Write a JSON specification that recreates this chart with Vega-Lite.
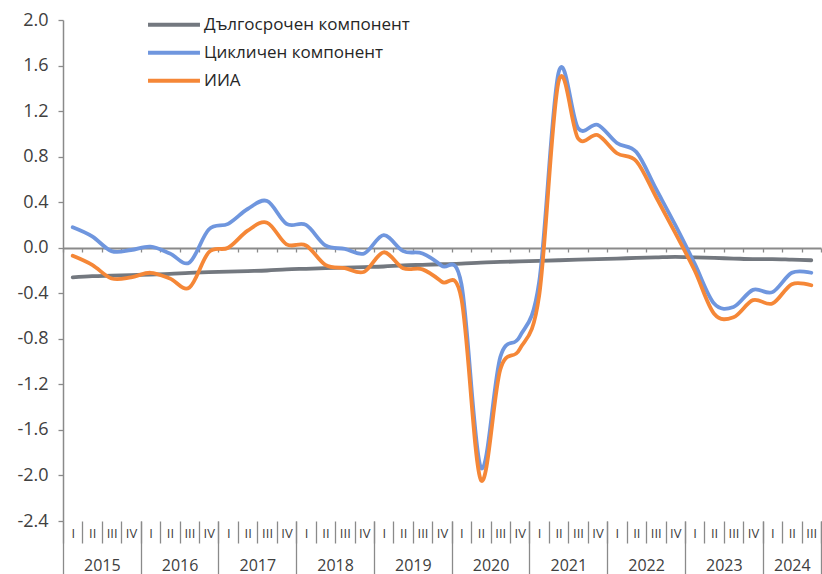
{
  "$schema": "https://vega.github.io/schema/vega-lite/v6.json",
  "width": 758,
  "height": 501,
  "autosize": {"type": "none"},
  "padding": {"left": 63, "top": 20, "right": 1, "bottom": 53},
  "background": "white",
  "config": {
    "view": {"stroke": null},
    "font": "Open Sans",
    "axisY": {
      "grid": false,
      "labelFont": "Open Sans",
      "labelFontSize": 18,
      "labelColor": "#404040",
      "labelPadding": 10,
      "tickSize": 5,
      "tickColor": "#8A8A8A",
      "tickWidth": 1.3,
      "domainColor": "#8A8A8A",
      "domainWidth": 1.5
    },
    "axisX": {
      "grid": false,
      "labelFlush": false,
      "labelOverlap": false,
      "labelBound": false,
      "domain": false,
      "tickColor": "#8A8A8A",
      "tickWidth": 1.3,
      "labelColor": "#404040",
      "labelFont": "Open Sans"
    }
  },
  "data": {
    "values": [
      {"i": 0, "year": 2015, "q": "I", "Дългосрочен компонент": -0.26, "Цикличен компонент": 0.18, "ИИА": -0.07},
      {"i": 1, "year": 2015, "q": "II", "Дългосрочен компонент": -0.25, "Цикличен компонент": 0.10, "ИИА": -0.15},
      {"i": 2, "year": 2015, "q": "III", "Дългосрочен компонент": -0.245, "Цикличен компонент": -0.03, "ИИА": -0.27},
      {"i": 3, "year": 2015, "q": "IV", "Дългосрочен компонент": -0.24, "Цикличен компонент": -0.02, "ИИА": -0.26},
      {"i": 4, "year": 2016, "q": "I", "Дългосрочен компонент": -0.235, "Цикличен компонент": 0.01, "ИИА": -0.22},
      {"i": 5, "year": 2016, "q": "II", "Дългосрочен компонент": -0.23, "Цикличен компонент": -0.05, "ИИА": -0.27},
      {"i": 6, "year": 2016, "q": "III", "Дългосрочен компонент": -0.22, "Цикличен компонент": -0.13, "ИИА": -0.35},
      {"i": 7, "year": 2016, "q": "IV", "Дългосрочен компонент": -0.215, "Цикличен компонент": 0.16, "ИИА": -0.04},
      {"i": 8, "year": 2017, "q": "I", "Дългосрочен компонент": -0.21, "Цикличен компонент": 0.21, "ИИА": 0.00},
      {"i": 9, "year": 2017, "q": "II", "Дългосрочен компонент": -0.205, "Цикличен компонент": 0.34, "ИИА": 0.15},
      {"i": 10, "year": 2017, "q": "III", "Дългосрочен компонент": -0.20, "Цикличен компонент": 0.41, "ИИА": 0.22},
      {"i": 11, "year": 2017, "q": "IV", "Дългосрочен компонент": -0.19, "Цикличен компонент": 0.21, "ИИА": 0.03},
      {"i": 12, "year": 2018, "q": "I", "Дългосрочен компонент": -0.185, "Цикличен компонент": 0.20, "ИИА": 0.02},
      {"i": 13, "year": 2018, "q": "II", "Дългосрочен компонент": -0.18, "Цикличен компонент": 0.02, "ИИА": -0.15},
      {"i": 14, "year": 2018, "q": "III", "Дългосрочен компонент": -0.175, "Цикличен компонент": -0.01, "ИИА": -0.18},
      {"i": 15, "year": 2018, "q": "IV", "Дългосрочен компонент": -0.17, "Цикличен компонент": -0.05, "ИИА": -0.21},
      {"i": 16, "year": 2019, "q": "I", "Дългосрочен компонент": -0.165, "Цикличен компонент": 0.11, "ИИА": -0.04},
      {"i": 17, "year": 2019, "q": "II", "Дългосрочен компонент": -0.155, "Цикличен компонент": -0.03, "ИИА": -0.18},
      {"i": 18, "year": 2019, "q": "III", "Дългосрочен компонент": -0.15, "Цикличен компонент": -0.05, "ИИА": -0.19},
      {"i": 19, "year": 2019, "q": "IV", "Дългосрочен компонент": -0.145, "Цикличен компонент": -0.16, "ИИА": -0.30},
      {"i": 20, "year": 2020, "q": "I", "Дългосрочен компонент": -0.14, "Цикличен компонент": -0.32, "ИИА": -0.45},
      {"i": 21, "year": 2020, "q": "II", "Дългосрочен компонент": -0.13, "Цикличен компонент": -1.93, "ИИА": -2.04},
      {"i": 22, "year": 2020, "q": "III", "Дългосрочен компонент": -0.125, "Цикличен компонент": -0.96, "ИИА": -1.07},
      {"i": 23, "year": 2020, "q": "IV", "Дългосрочен компонент": -0.12, "Цикличен компонент": -0.78, "ИИА": -0.89},
      {"i": 24, "year": 2021, "q": "I", "Дългосрочен компонент": -0.115, "Цикличен компонент": -0.30, "ИИА": -0.42},
      {"i": 25, "year": 2021, "q": "II", "Дългосрочен компонент": -0.11, "Цикличен компонент": 1.54, "ИИА": 1.46},
      {"i": 26, "year": 2021, "q": "III", "Дългосрочен компонент": -0.105, "Цикличен компонент": 1.05, "ИИА": 0.96},
      {"i": 27, "year": 2021, "q": "IV", "Дългосрочен компонент": -0.10, "Цикличен компонент": 1.08, "ИИА": 0.99},
      {"i": 28, "year": 2022, "q": "I", "Дългосрочен компонент": -0.095, "Цикличен компонент": 0.92, "ИИА": 0.83},
      {"i": 29, "year": 2022, "q": "II", "Дългосрочен компонент": -0.09, "Цикличен компонент": 0.84, "ИИА": 0.76},
      {"i": 30, "year": 2022, "q": "III", "Дългосрочен компонент": -0.085, "Цикличен компонент": 0.52, "ИИА": 0.45},
      {"i": 31, "year": 2022, "q": "IV", "Дългосрочен компонент": -0.08, "Цикличен компонент": 0.20, "ИИА": 0.13},
      {"i": 32, "year": 2023, "q": "I", "Дългосрочен компонент": -0.085, "Цикличен компонент": -0.14, "ИИА": -0.20},
      {"i": 33, "year": 2023, "q": "II", "Дългосрочен компонент": -0.09, "Цикличен компонент": -0.49, "ИИА": -0.58},
      {"i": 34, "year": 2023, "q": "III", "Дългосрочен компонент": -0.095, "Цикличен компонент": -0.52, "ИИА": -0.61},
      {"i": 35, "year": 2023, "q": "IV", "Дългосрочен компонент": -0.10, "Цикличен компонент": -0.37, "ИИА": -0.46},
      {"i": 36, "year": 2024, "q": "I", "Дългосрочен компонент": -0.10, "Цикличен компонент": -0.39, "ИИА": -0.49},
      {"i": 37, "year": 2024, "q": "II", "Дългосрочен компонент": -0.105, "Цикличен компонент": -0.22, "ИИА": -0.32},
      {"i": 38, "year": 2024, "q": "III", "Дългосрочен компонент": -0.11, "Цикличен компонент": -0.22, "ИИА": -0.33}
    ]
  },
  "transform": [
    {"fold": ["Дългосрочен компонент", "Цикличен компонент", "ИИА"], "as": ["series", "value"]}
  ],
  "resolve": {"scale": {"x": "shared", "y": "shared"}, "axis": {"x": "independent", "y": "shared"}},
  "layer": [
    {
      "mark": {"type": "line", "interpolate": "cardinal", "strokeWidth": 3.8, "strokeCap": "round"},
      "encoding": {
        "x": {
          "field": "i", "type": "quantitative", "title": null,
          "scale": {"domain": [-0.5, 38.5], "nice": false, "zero": false},
          "axis": {
            "orient": "bottom",
            "values": [0,1,2,3,4,5,6,7,8,9,10,11,12,13,14,15,16,17,18,19,20,21,22,23,24,25,26,27,28,29,30,31,32,33,34,35,36,37,38],
            "labelExpr": "['I','II','III','IV'][datum.value % 4]",
            "ticks": false,
            "tickSize": 0,
            "labelPadding": 12,
            "labelBaseline": "middle",
            "labelFontSize": 13
          }
        },
        "y": {
          "field": "value", "type": "quantitative", "title": null,
          "scale": {"domain": [-2.4, 2.0], "nice": false, "zero": false},
          "axis": {
            "values": [-2.4, -2.0, -1.6, -1.2, -0.8, -0.4, 0.0, 0.4, 0.8, 1.2, 1.6, 2.0],
            "labelExpr": "replace(format(datum.value, '.1f'), '\u2212', '-')"
          }
        },
        "color": {
          "field": "series", "type": "nominal",
          "scale": {
            "domain": ["Дългосрочен компонент", "Цикличен компонент", "ИИА"],
            "range": ["#73787F", "#6F96DE", "#F58737"]
          },
          "legend": {
            "title": null,
            "orient": "none",
            "legendX": 83,
            "legendY": -9,
            "symbolType": "stroke",
            "symbolSize": 2700,
            "symbolStrokeWidth": 4,
            "labelFontSize": 17,
            "labelColor": "#262626",
            "labelFont": "Open Sans",
            "labelLimit": 400,
            "labelOffset": 2,
            "clipHeight": 27.5,
            "rowPadding": 0
          }
        }
      }
    },
    {
      "mark": {"type": "point", "opacity": 0},
      "encoding": {
        "x": {
          "field": "i", "type": "quantitative", "title": null,
          "axis": {
            "orient": "bottom",
            "values": [-0.5,0.5,1.5,2.5,3.5,4.5,5.5,6.5,7.5,8.5,9.5,10.5,11.5,12.5,13.5,14.5,15.5,16.5,17.5,18.5,19.5,20.5,21.5,22.5,23.5,24.5,25.5,26.5,27.5,28.5,29.5,30.5,31.5,32.5,33.5,34.5,35.5,36.5,37.5,38.5],
            "labels": false,
            "ticks": true,
            "tickSize": 22
          }
        },
        "y": {"field": "value", "type": "quantitative", "title": null}
      }
    },
    {
      "mark": {"type": "point", "opacity": 0},
      "encoding": {
        "x": {
          "field": "i", "type": "quantitative", "title": null,
          "axis": {
            "orient": "bottom",
            "values": [-0.5,3.5,7.5,11.5,15.5,19.5,23.5,27.5,31.5,35.5,38.5],
            "labels": false,
            "ticks": true,
            "tickSize": 53
          }
        },
        "y": {"field": "value", "type": "quantitative", "title": null}
      }
    },
    {
      "mark": {"type": "point", "opacity": 0},
      "encoding": {
        "x": {
          "field": "i", "type": "quantitative", "title": null,
          "axis": {
            "orient": "bottom",
            "values": [1.5,5.5,9.5,13.5,17.5,21.5,25.5,29.5,33.5,37],
            "labelExpr": "'' + (floor(datum.value / 4) + 2015)",
            "ticks": false,
            "tickSize": 0,
            "labelPadding": 44,
            "labelBaseline": "middle",
            "labelFontSize": 16
          }
        },
        "y": {"field": "value", "type": "quantitative", "title": null}
      }
    },
    {
      "mark": {"type": "point", "opacity": 0},
      "encoding": {
        "x": {
          "field": "i", "type": "quantitative", "title": null,
          "axis": {
            "orient": "bottom",
            "offset": -273,
            "values": [-0.5,0.5,1.5,2.5,3.5,4.5,5.5,6.5,7.5,8.5,9.5,10.5,11.5,12.5,13.5,14.5,15.5,16.5,17.5,18.5,19.5,20.5,21.5,22.5,23.5,24.5,25.5,26.5,27.5,28.5,29.5,30.5,31.5,32.5,33.5,34.5,35.5,36.5,37.5,38.5],
            "labels": false,
            "ticks": true,
            "tickSize": 4,
            "domain": true,
            "domainColor": "#8A8A8A",
            "domainWidth": 2
          }
        },
        "y": {"field": "value", "type": "quantitative", "title": null}
      }
    }
  ]
}
